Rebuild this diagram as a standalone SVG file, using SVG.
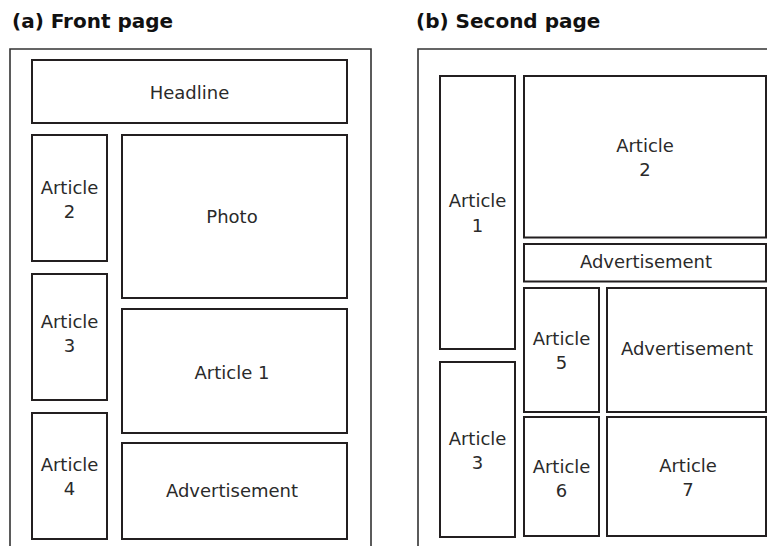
<svg xmlns="http://www.w3.org/2000/svg" width="767" height="546" viewBox="0 0 767 546">
<style>
.bg{fill:#fff}
.frame{fill:none;stroke:#333;stroke-width:1.6}
.box{fill:#fff;stroke:#231f20;stroke-width:2}
.title{font-family:"DejaVu Sans",sans-serif;font-weight:bold;font-size:20px;fill:#111}
.lbl{font-family:"DejaVu Sans",sans-serif;font-size:18px;fill:#2a2a2a;text-anchor:middle}
</style>
<rect class="bg" x="0" y="0" width="767" height="546"/>
<text class="title" x="12" y="27.5">(a) Front page</text>
<text class="title" x="416" y="27.5">(b) Second page</text>
<g id="frame-a"><path class="frame" d="M10,547 V49 H371 V547"/></g>
<g id="frame-b"><path class="frame" d="M418,547 V49 H768"/></g>
<g id="a-headline"><rect class="box" x="32" y="60" width="315" height="63"/><text class="lbl" x="189.5" y="99">Headline</text></g>
<g id="a-article2"><rect class="box" x="32" y="135" width="75" height="126"/><text class="lbl" x="69.5" y="194">Article</text><text class="lbl" x="69.5" y="218">2</text></g>
<g id="a-photo"><rect class="box" x="122" y="135" width="225" height="163"/><text class="lbl" x="232" y="223">Photo</text></g>
<g id="a-article3"><rect class="box" x="32" y="274" width="75" height="126"/><text class="lbl" x="69.5" y="328">Article</text><text class="lbl" x="69.5" y="352">3</text></g>
<g id="a-article1"><rect class="box" x="122" y="309" width="225" height="124"/><text class="lbl" x="232" y="379">Article 1</text></g>
<g id="a-article4"><rect class="box" x="32" y="413" width="75" height="126"/><text class="lbl" x="69.5" y="471">Article</text><text class="lbl" x="69.5" y="495">4</text></g>
<g id="a-ad"><rect class="box" x="122" y="443" width="225" height="96"/><text class="lbl" x="232" y="497">Advertisement</text></g>
<g id="b-article1"><rect class="box" x="440" y="76" width="75" height="273"/><text class="lbl" x="477.5" y="207">Article</text><text class="lbl" x="477.5" y="231.5">1</text></g>
<g id="b-article2"><rect class="box" x="524" y="76" width="242" height="161.5"/><text class="lbl" x="645" y="152">Article</text><text class="lbl" x="645" y="175.5">2</text></g>
<g id="b-ad1"><rect class="box" x="524" y="244" width="242" height="37.5"/><text class="lbl" x="646" y="267.5">Advertisement</text></g>
<g id="b-article5"><rect class="box" x="524" y="288" width="75" height="124"/><text class="lbl" x="561.5" y="345">Article</text><text class="lbl" x="561.5" y="369">5</text></g>
<g id="b-ad2"><rect class="box" x="607" y="288" width="159" height="124"/><text class="lbl" x="687" y="355">Advertisement</text></g>
<g id="b-article3"><rect class="box" x="440" y="362" width="75" height="175"/><text class="lbl" x="477.5" y="445">Article</text><text class="lbl" x="477.5" y="468.5">3</text></g>
<g id="b-article6"><rect class="box" x="524" y="417" width="75" height="119"/><text class="lbl" x="561.5" y="473">Article</text><text class="lbl" x="561.5" y="497">6</text></g>
<g id="b-article7"><rect class="box" x="607" y="417" width="159" height="119"/><text class="lbl" x="688" y="472">Article</text><text class="lbl" x="688" y="496">7</text></g>
<g id="connectors"></g>
</svg>
